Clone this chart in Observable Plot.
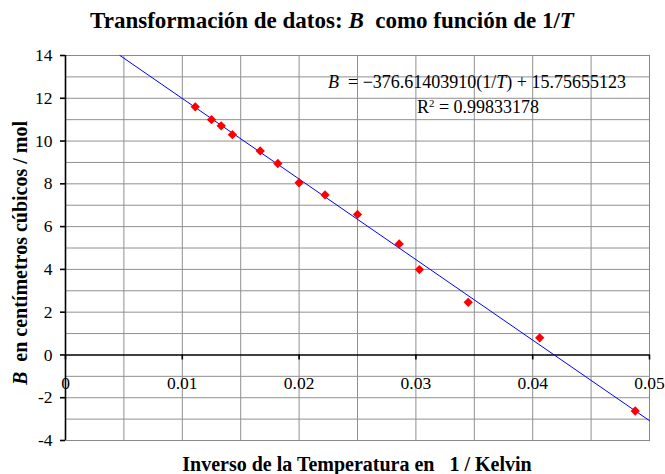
<!DOCTYPE html>
<html><head><meta charset="utf-8">
<script src="https://cdn.jsdelivr.net/npm/d3@7"></script>
<script src="https://cdn.jsdelivr.net/npm/@observablehq/plot@0.6"></script>
<style>body{margin:0;background:#fff} svg text{white-space:pre;font-family:'Liberation Serif','Times New Roman',serif !important}</style>
</head><body><div id="chart"></div>
<script>
// Data: inverse temperature (1/K) and B (cm^3/mol)
const invT = [0.01111, 0.0125, 0.01333, 0.01429, 0.01667, 0.01818, 0.02, 0.02222, 0.025, 0.02857, 0.0303, 0.03448, 0.0406, 0.04878];
const B = [11.60, 11.00, 10.71, 10.30, 9.54, 8.95, 8.05, 7.48, 6.57, 5.19, 3.99, 2.46, 0.80, -2.62];
const xTicks = [0, 0.01, 0.02, 0.03, 0.04, 0.05];
const xTickLabels = ["0", "0.01", "0.02", "0.03", "0.04", "0.05"];
const yTicks = [-4, -2, 0, 2, 4, 6, 8, 10, 12, 14];
const yTickLabels = ["-4", "-2", "0", "2", "4", "6", "8", "10", "12", "14"];
const xGrid = [0.005, 0.01, 0.015, 0.02, 0.025, 0.03, 0.035, 0.04, 0.045];
const yGrid = [-3, -2, -1, 1, 2, 3, 4, 5, 6, 7, 8, 9, 10, 11, 12, 13];
const slope = -376.61403910, intercept = 15.75655123, r2 = 0.99833178;
const xDomain = [0, 0.05], yDomain = [-4, 14];

const FONT = "'Liberation Serif', 'Times New Roman', serif";
const points = invT.map((x, i) => ({x, y: B[i]}));
const x0 = (yDomain[1] - intercept) / slope;
const trend = [x0, xDomain[1]].map(x => ({x, y: intercept + slope * x}));
const xLab = xTicks.map((x, i) => ({x, t: xTickLabels[i]}));

const plot = Plot.plot({
  width: 665, height: 474,
  marginLeft: 65, marginRight: 16, marginTop: 55, marginBottom: 34,
  style: {fontFamily: FONT, fontSize: "17.5px", background: "#fff", overflow: "visible"},
  x: {domain: xDomain, axis: null},
  y: {domain: yDomain, axis: null},
  marks: [
    Plot.ruleX(xGrid, {stroke: "#909090", strokeWidth: 1}),
    Plot.ruleY(yGrid, {stroke: "#909090", strokeWidth: 1}),
    Plot.frame({stroke: "#888", strokeWidth: 1}),
    Plot.ruleY([0], {stroke: "#000", strokeWidth: 1.6}),
    Plot.ruleX([0], {stroke: "#000", strokeWidth: 1.6}),
    Plot.ruleX(xTicks, {y1: 0, y2: 0, insetBottom: -5, stroke: "#000", strokeWidth: 1.6}),
    Plot.axisY(yTicks, {tickSize: 5, tickPadding: 8, label: null, fontSize: 17.5, fontFamily: FONT,
      tickFormat: d => yTickLabels[yTicks.indexOf(d)], stroke: "#000", strokeWidth: 1.6, fill: "#000"}),
    Plot.text(xLab, {x: "x", y: 0, text: "t", dy: 28, fontSize: 17.5, fontFamily: FONT, fill: "#000"}),
    Plot.line(trend, {x: "x", y: "y", stroke: "#0000ff", strokeWidth: 1}),
    Plot.dot(points, {x: "x", y: "y", symbol: "diamond2", r: 4.2, fill: "#ff0000", stroke: "none"})
  ]
});
document.getElementById("chart").append(plot);

const svg = d3.select(plot);
function addText(x, y, parts, opts) {
  const t = svg.append("text").attr("x", x).attr("y", y)
    .attr("text-anchor", opts.anchor || "middle")
    .attr("font-family", FONT)
    .attr("font-size", opts.size).attr("font-weight", opts.weight || "normal")
    .attr("fill", "#000");
  if (opts.transform) t.attr("transform", opts.transform);
  parts.forEach(p => {
    const s = t.append("tspan").text(p.t);
    if (p.i) s.attr("font-style", "italic");
    if (p.sup) s.attr("baseline-shift", "super").attr("font-size", opts.size * 0.6);
  });
  return t;
}
addText(332, 28, [{t: "Transformación de datos: "}, {t: "B", i: 1}, {t: "  como función de 1/"}, {t: "T", i: 1}], {size: 23, weight: "bold"});
addText(0, 0, [{t: "B", i: 1}, {t: "  en centímetros cúbicos / mol"}], {size: 20, weight: "bold", transform: "translate(27,253) rotate(-90)"});
addText(357, 471, [{t: "Inverso de la Temperatura en   1 / Kelvin"}], {size: 20, weight: "bold"});
addText(477, 88, [{t: "B", i: 1}, {t: "  = −376.61403910(1/"}, {t: "T", i: 1}, {t: ") + 15.75655123"}], {size: 18});
addText(478, 113, [{t: "R"}, {t: "2", sup: 1}, {t: " = " + r2.toFixed(8)}], {size: 18});
</script></body></html>
